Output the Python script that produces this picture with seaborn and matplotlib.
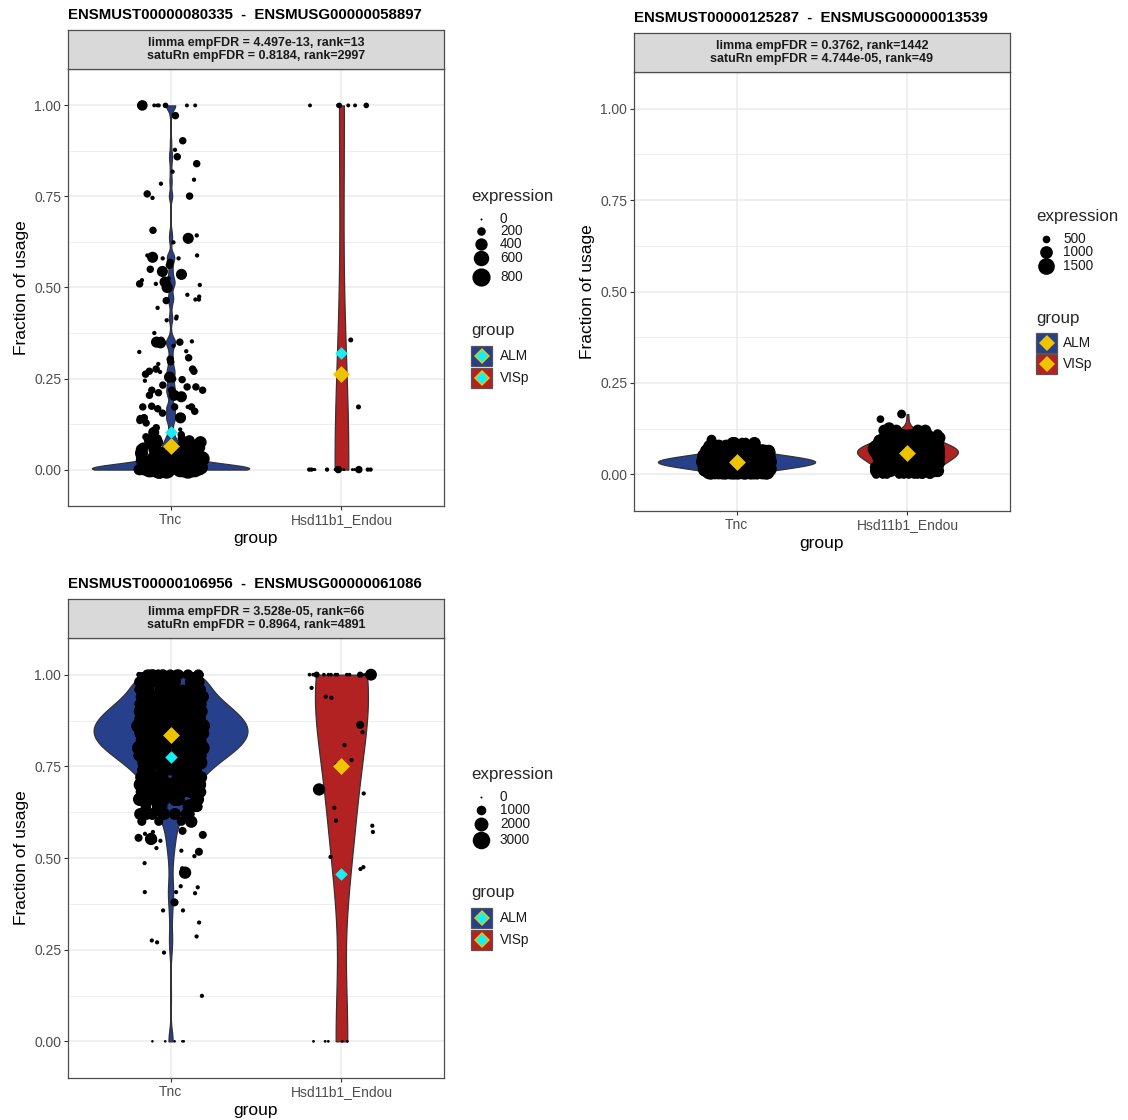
import numpy as np
import pandas as pd
import matplotlib
matplotlib.use("Agg")
import matplotlib.pyplot as plt
import seaborn as sns
from matplotlib.patches import Rectangle
from matplotlib.lines import Line2D

# ------------------------------------------------------------------ data
groups = ["Tnc", "Hsd11b1_Endou"]
legend_labels = ["ALM", "VISp"]

titles = ["ENSMUST00000080335  -  ENSMUSG00000058897",
          "ENSMUST00000125287  -  ENSMUSG00000013539",
          "ENSMUST00000106956  -  ENSMUSG00000061086"]
strip_texts = ["limma empFDR = 4.497e-13, rank=13\nsatuRn empFDR = 0.8184, rank=2997",
               "limma empFDR = 0.3762, rank=1442\nsatuRn empFDR = 4.744e-05, rank=49",
               "limma empFDR = 3.528e-05, rank=66\nsatuRn empFDR = 0.8964, rank=4891"]

# panel 1 - Tnc (usage value, expression, number of cells)
p1_tnc_usage = [0.0, 0.0, 0.0, 0.0, 0.0, 0.005, 0.005, 0.01, 0.01, 0.01, 0.015, 0.015,
                0.02, 0.02, 0.025, 0.03, 0.03, 0.035, 0.04, 0.045, 0.05, 0.055, 0.06,
                0.065, 0.07, 0.075, 0.08, 0.085, 1.0, 1.0, 1.0]
p1_tnc_expr = [20, 120, 350, 600, 800, 150, 450, 80, 300, 650, 200, 500,
               120, 400, 300, 200, 550, 350, 250, 450, 200, 350, 300,
               500, 250, 400, 300, 200, 30, 80, 300]
p1_tnc_n = [40, 30, 15, 8, 4, 10, 6, 8, 8, 3, 6, 4,
            6, 5, 4, 4, 3, 3, 4, 3, 3, 2, 3,
            2, 3, 2, 2, 2, 5, 2, 1]
p1_tnc_tail_usage = [0.972, 0.903, 0.878, 0.859, 0.859, 0.84, 0.818, 0.796, 0.785, 0.757,
                     0.746, 0.751, 0.657, 0.635, 0.643, 0.624, 0.588, 0.58, 0.58, 0.588,
                     0.583, 0.588, 0.561, 0.569, 0.55, 0.544, 0.536, 0.525, 0.52, 0.515,
                     0.517, 0.50, 0.51, 0.51, 0.507, 0.467, 0.475, 0.48, 0.464, 0.467,
                     0.444, 0.42, 0.415, 0.41, 0.375, 0.35, 0.35, 0.35, 0.348, 0.355,
                     0.35, 0.352, 0.34, 0.323, 0.325, 0.296, 0.307, 0.303, 0.29, 0.276,
                     0.27, 0.276, 0.254, 0.27, 0.262, 0.268, 0.249, 0.247, 0.244, 0.227,
                     0.204, 0.218, 0.232, 0.211, 0.227, 0.218, 0.204, 0.218, 0.2, 0.172,
                     0.172, 0.167, 0.174, 0.172, 0.155, 0.172, 0.16, 0.14, 0.142, 0.142,
                     0.145, 0.128, 0.142, 0.135, 0.11, 0.115, 0.102, 0.096, 0.09]
p1_tnc_tail_expr = [150, 150, 40, 150, 40, 150, 40, 40, 40, 150,
                    40, 150, 150, 330, 40, 40, 40, 40, 40, 40,
                    330, 40, 150, 150, 150, 330, 330, 40, 40, 330,
                    40, 330, 150, 40, 40, 40, 40, 40, 150, 40,
                    40, 40, 40, 40, 40, 150, 150, 330, 330, 150,
                    150, 40, 40, 40, 40, 150, 150, 150, 40, 150,
                    150, 150, 330, 150, 150, 40, 150, 150, 40, 150,
                    330, 150, 150, 150, 150, 150, 150, 150, 330, 40,
                    150, 150, 150, 150, 150, 150, 150, 150, 150, 330,
                    150, 150, 150, 150, 40, 150, 330, 150, 150]
# panel 1 - Hsd11b1_Endou
p1_hsd_usage = [0.0, 0.0, 0.0, 0.172, 0.356, 1.0, 1.0]
p1_hsd_expr = [10, 40, 150, 60, 60, 30, 80]
p1_hsd_n = [9, 5, 2, 1, 1, 4, 2]

# panel 2 - Tnc
p2_tnc_usage = [0.0, 0.005, 0.01, 0.015, 0.02, 0.025, 0.03, 0.035, 0.04, 0.045,
                0.05, 0.055, 0.06, 0.065, 0.07, 0.075, 0.08, 0.085, 0.09, 0.095]
p2_tnc_expr = [700, 1100, 500, 1400, 900, 1200, 600, 1500, 800, 1000,
               1300, 700, 1100, 900, 600, 1200, 800, 1000, 500, 700]
p2_tnc_n = [13, 22, 33, 46, 59, 70, 78, 80, 76, 66,
            54, 41, 28, 18, 11, 6, 4, 3, 2, 1]
# panel 2 - Hsd11b1_Endou
p2_hsd_usage = [0.0, 0.01, 0.02, 0.03, 0.04, 0.05, 0.06, 0.07, 0.08, 0.09,
                0.10, 0.11, 0.12, 0.13, 0.151, 0.165]
p2_hsd_expr = [600, 1000, 800, 1300, 700, 1100, 900, 1500, 800, 1200,
               1000, 700, 900, 600, 500, 600]
p2_hsd_n = [12, 16, 19, 22, 25, 29, 32, 31, 26, 20,
            15, 10, 5, 2, 1, 1]

# panel 3 - Tnc
p3_tnc_usage = [0.60, 0.62, 0.64, 0.66, 0.68, 0.70, 0.72, 0.74, 0.76, 0.78,
                0.80, 0.82, 0.84, 0.86, 0.88, 0.90, 0.92, 0.94, 0.96, 0.98,
                1.0, 1.0, 0.0]
p3_tnc_expr = [900, 1500, 1200, 1800, 1400, 2000, 1600, 1200, 1900, 1500,
               2200, 1300, 1700, 2000, 1400, 1800, 1100, 1600, 900, 1300,
               300, 1200, 20]
p3_tnc_n = [4, 6, 8, 10, 14, 16, 20, 24, 30, 38,
            44, 50, 52, 52, 48, 42, 36, 30, 24, 20,
            25, 12, 5]
p3_tnc_tail_usage = [0.654, 0.643, 0.62, 0.613, 0.602, 0.62, 0.635, 0.654, 0.599, 0.574,
                     0.552, 0.563, 0.566, 0.571, 0.547, 0.555, 0.547, 0.517, 0.527, 0.52,
                     0.505, 0.486, 0.472, 0.46, 0.42, 0.407, 0.423, 0.407, 0.357, 0.379,
                     0.324, 0.404, 0.357, 0.242, 0.275, 0.286, 0.27, 0.124]
p3_tnc_tail_expr = [700, 1600, 700, 150, 700, 700, 150, 700, 1600, 700,
                    1600, 700, 150, 150, 150, 700, 150, 700, 150, 150,
                    150, 150, 150, 1600, 150, 150, 150, 150, 150, 700,
                    150, 150, 150, 150, 150, 150, 150, 150]
# panel 3 - Hsd11b1_Endou
p3_hsd_usage = [1.0, 1.0, 1.0, 0.0]
p3_hsd_expr = [100, 400, 1500, 30]
p3_hsd_n = [13, 2, 1, 5]
p3_hsd_tail_usage = [0.964, 0.937, 0.94, 0.863, 0.843, 0.808, 0.767, 0.755, 0.687, 0.676,
                     0.637, 0.602, 0.588, 0.571, 0.503, 0.475, 0.47]
p3_hsd_tail_expr = [150, 150, 150, 700, 150, 150, 150, 150, 1600, 150,
                    150, 150, 150, 150, 150, 150, 150]

# group summaries (diamonds)
p1_mean = [0.066, 0.262]
p1_wmean = [0.102, 0.32]
p2_mean = [0.035, 0.059]
p3_mean = [0.835, 0.75]
p3_wmean = [0.775, 0.456]

# size legend breaks
p1_breaks = [0, 200, 400, 600, 800]
p2_breaks = [500, 1000, 1500]
p3_breaks = [0, 1000, 2000, 3000]

# ------------------------------------------------------------------ style
W, H = 1128, 1120
sns.set_theme(style="white")
plt.rcParams["font.family"] = ["Liberation Sans", "DejaVu Sans"]
np.random.seed(11)

BLUE = "#27408B"
RED = "#B22222"
YELLOW = "#EEC400"
CYAN = "#14F0F5"
fill_colors = {"Tnc": BLUE, "Hsd11b1_Endou": RED}
GRID = "#EBEBEB"
BORDER = "#4D4D4D"


def fx(x):
    return x / W


def fy(y):
    return 1 - y / H


def diam_pt(v, lim):
    lo, hi = lim
    r = np.clip((np.asarray(v, dtype=float) - lo) / (hi - lo), 0, 1)
    return (2.0 + 17.5 * r ** 0.65) * 72 / 100


def build(usage, expr, n, tail_u=None, tail_e=None):
    df = pd.DataFrame({"usage": np.repeat(usage, n), "expression": np.repeat(expr, n)})
    if tail_u is not None:
        df = pd.concat([df, pd.DataFrame({"usage": tail_u, "expression": tail_e})],
                       ignore_index=True)
    return df


def abs_bw(bw):
    def factor(kde):
        sd = np.std(kde.dataset, ddof=1)
        return bw / sd if sd > 0 else 1.0
    return factor


fig = plt.figure(figsize=(W / 100, H / 100), dpi=100)


def draw_panel(box, strip_box, title_y, title, strip_text, data, widths, bws,
               means, wmeans, size_lim):
    x0, y0, x1, y1 = box
    ax = fig.add_axes([fx(x0), fy(y1), (x1 - x0) / W, (y1 - y0) / H])
    for g, df in zip(groups, data):
        d = df.assign(group=g)
        sns.violinplot(data=d, x="group", y="usage", order=groups, color=fill_colors[g],
                       saturation=1, cut=0, inner=None, width=widths[g],
                       bw_method=abs_bw(bws[g]), gridsize=512, linewidth=0.9,
                       linecolor="#333333", density_norm="width", ax=ax)
    for g, df in zip(groups, data):
        d = df.assign(group=g)
        nb = len(ax.collections)
        sns.stripplot(data=d, x="group", y="usage", order=groups, color="black",
                      size=3, jitter=0.19, linewidth=0, ax=ax)
        for c in ax.collections[nb:]:
            c.set_sizes(diam_pt(d["expression"].to_numpy(), size_lim) ** 2)
    sns.stripplot(x=groups, y=means, order=groups, color=YELLOW, marker="D", size=8.6,
                  jitter=False, linewidth=0, ax=ax)
    if wmeans is not None:
        sns.stripplot(x=groups, y=wmeans, order=groups, color=CYAN, marker="D", size=6.4,
                      jitter=False, linewidth=0, ax=ax)

    ax.set_xlim(-0.6, 1.6)
    ax.set_ylim(-0.1, 1.1)
    ax.set_yticks([0, 0.25, 0.5, 0.75, 1.0])
    ax.set_yticklabels(["0.00", "0.25", "0.50", "0.75", "1.00"])
    ax.set_yticks([0.125, 0.375, 0.625, 0.875], minor=True)
    ax.set_xticks([0, 1])
    ax.set_xticklabels(groups)
    ax.set_axisbelow(True)
    ax.grid(True, which="major", color=GRID, linewidth=1.1)
    ax.yaxis.grid(True, which="minor", color=GRID, linewidth=0.55)
    ax.xaxis.grid(True, which="major", color=GRID, linewidth=1.1)
    for s in ax.spines.values():
        s.set_visible(True)
        s.set_color(BORDER)
        s.set_linewidth(0.9)
    ax.tick_params(axis="both", which="major", length=2.8, width=0.8, color="#333333",
                   labelcolor="#4D4D4D", labelsize=10, pad=2, left=True, bottom=True)
    ax.tick_params(axis="y", which="minor", length=0)
    ax.set_xlabel("group", fontsize=12.5, color="black", labelpad=3)
    ax.set_ylabel("Fraction of usage", fontsize=12.5, color="black", labelpad=4)

    sx0, sy0, sx1, sy1 = strip_box
    sax = fig.add_axes([fx(sx0), fy(sy1), (sx1 - sx0) / W, (sy1 - sy0) / H])
    sax.set_facecolor("#D9D9D9")
    sax.set_xticks([])
    sax.set_yticks([])
    for s in sax.spines.values():
        s.set_visible(True)
        s.set_color(BORDER)
        s.set_linewidth(0.9)
    sax.text(0.5, 0.5, strip_text, ha="center", va="center", fontsize=9,
             fontweight="bold", color="#1A1A1A", linespacing=1.1,
             transform=sax.transAxes)
    fig.text(fx(x0), fy(title_y), title, ha="left", va="center", fontsize=10.8,
             fontweight="bold", color="black")
    return ax


def draw_legend(x0, key_x, label_x, title_y, entries, size_lim, grp_title_y, grp_ys, cyan):
    fig.text(fx(x0), fy(title_y), "expression", fontsize=12.2, ha="left", va="center")
    for v, y in entries:
        fig.add_artist(Line2D([fx(key_x)], [fy(y)], marker="o", linestyle="none",
                              markersize=float(diam_pt(v, size_lim)), color="black",
                              markeredgewidth=0, transform=fig.transFigure))
        fig.text(fx(label_x), fy(y), str(v), fontsize=9.8, ha="left", va="center",
                 color="#1A1A1A")
    fig.text(fx(x0), fy(grp_title_y), "group", fontsize=12.2, ha="left", va="center")
    for lab, col, y in zip(legend_labels, [BLUE, RED], grp_ys):
        fig.add_artist(Rectangle((fx(x0), fy(y + 10)), 21 / W, 20 / H, facecolor=col,
                                 edgecolor="#555555", linewidth=0.9,
                                 transform=fig.transFigure))
        fig.add_artist(Line2D([fx(x0 + 10.5)], [fy(y)], marker="D", linestyle="none",
                              markersize=8.2, color=YELLOW, markeredgewidth=0,
                              transform=fig.transFigure))
        if cyan:
            fig.add_artist(Line2D([fx(x0 + 10.5)], [fy(y)], marker="D", linestyle="none",
                                  markersize=6.6, color=CYAN, markeredgewidth=0,
                                  transform=fig.transFigure))
        fig.text(fx(label_x), fy(y), lab, fontsize=9.8, ha="left", va="center",
                 color="#1A1A1A")


# ------------------------------------------------------------------ panels
p1_data = [build(p1_tnc_usage, p1_tnc_expr, p1_tnc_n, p1_tnc_tail_usage, p1_tnc_tail_expr),
           build(p1_hsd_usage, p1_hsd_expr, p1_hsd_n)]
p2_data = [build(p2_tnc_usage, p2_tnc_expr, p2_tnc_n),
           build(p2_hsd_usage, p2_hsd_expr, p2_hsd_n)]
p3_data = [build(p3_tnc_usage, p3_tnc_expr, p3_tnc_n, p3_tnc_tail_usage, p3_tnc_tail_expr),
           build(p3_hsd_usage, p3_hsd_expr, p3_hsd_n, p3_hsd_tail_usage, p3_hsd_tail_expr)]

lim1, lim2, lim3 = (0, 900), (200, 1900), (0, 3600)

draw_panel((68, 69, 444, 506), (68, 30, 444, 69), 15, titles[0], strip_texts[0], p1_data,
           {"Tnc": 0.92, "Hsd11b1_Endou": 0.08}, {"Tnc": 0.012, "Hsd11b1_Endou": 0.3},
           p1_mean, p1_wmean, lim1)
draw_panel((634, 72, 1010, 511), (634, 33, 1010, 72), 18, titles[1], strip_texts[1], p2_data,
           {"Tnc": 0.92, "Hsd11b1_Endou": 0.59}, {"Tnc": 0.006, "Hsd11b1_Endou": 0.012},
           p2_mean, None, lim2)
draw_panel((68, 638, 444, 1078), (68, 599, 444, 638), 584, titles[2], strip_texts[2], p3_data,
           {"Tnc": 0.90, "Hsd11b1_Endou": 0.31}, {"Tnc": 0.03, "Hsd11b1_Endou": 0.18},
           p3_mean, p3_wmean, lim3)

draw_legend(471, 481, 500, 197, list(zip(p1_breaks, [219, 231, 244, 258, 277])), lim1,
            331, [356, 378], True)
draw_legend(1036, 1046, 1063, 217, list(zip(p2_breaks, [239, 252, 266])), lim2,
            318, [343, 364], False)
draw_legend(471, 481, 500, 775, list(zip(p3_breaks, [797, 810, 824, 840])), lim3,
            892, [918, 940], True)

fig.savefig("out.png", dpi=100)
